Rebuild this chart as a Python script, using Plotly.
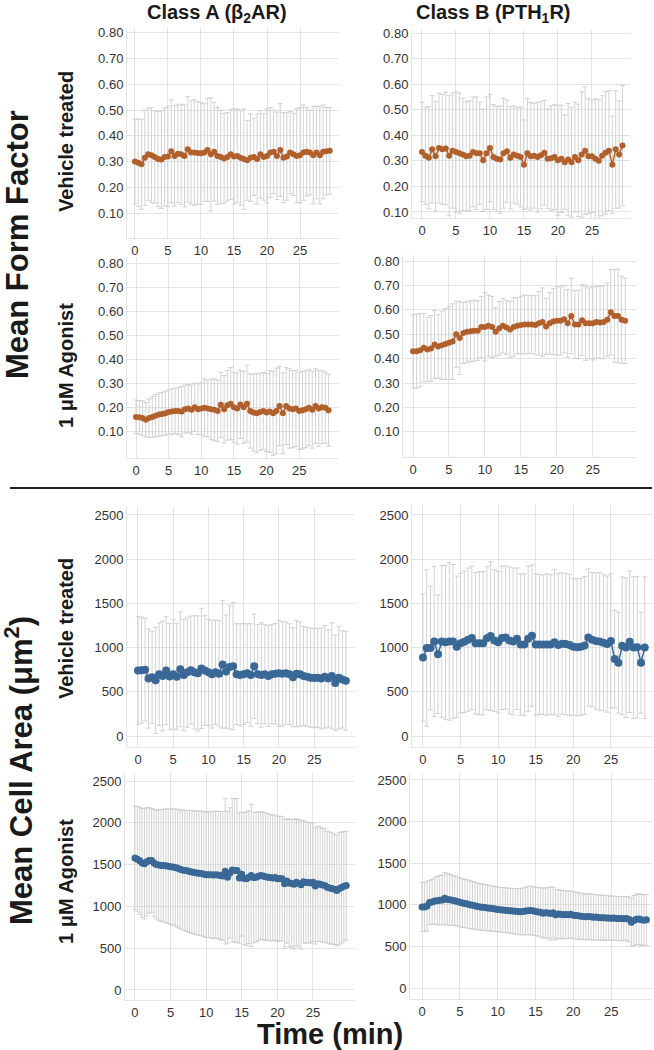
import plotly.graph_objects as go

W, H = 654, 1050

# ---------------- data ----------------
time_half = [i * 0.5 for i in range(60)]     # minutes, 30 s sampling
time_third = [i / 3 for i in range(90)]      # minutes, 20 s sampling

# Mean Form Factor, Class A, vehicle
ff_a_veh = [0.300, 0.295, 0.290, 0.315, 0.328, 0.325, 0.318, 0.310, 0.308, 0.318,
            0.320, 0.340, 0.322, 0.330, 0.328, 0.322, 0.348, 0.335, 0.335, 0.333,
            0.332, 0.335, 0.345, 0.328, 0.338, 0.322, 0.318, 0.312, 0.318, 0.328,
            0.320, 0.322, 0.315, 0.310, 0.305, 0.315, 0.318, 0.310, 0.328, 0.318,
            0.322, 0.335, 0.338, 0.322, 0.345, 0.315, 0.320, 0.335, 0.328, 0.322,
            0.325, 0.335, 0.338, 0.335, 0.325, 0.335, 0.325, 0.338, 0.340, 0.342]
ff_a_veh_sd = [0.165, 0.170, 0.175, 0.185, 0.180, 0.185, 0.180, 0.185, 0.190, 0.190,
               0.195, 0.200, 0.195, 0.190, 0.195, 0.198, 0.205, 0.200, 0.205, 0.200,
               0.198, 0.190, 0.200, 0.220, 0.192, 0.188, 0.182, 0.175, 0.172, 0.175,
               0.185, 0.182, 0.185, 0.195, 0.155, 0.170, 0.150, 0.175, 0.170, 0.168,
               0.183, 0.175, 0.162, 0.170, 0.180, 0.175, 0.170, 0.160, 0.160, 0.183,
               0.185, 0.185, 0.172, 0.165, 0.190, 0.180, 0.190, 0.182, 0.170, 0.168]

# Mean Form Factor, Class B, vehicle
ff_b_veh = [0.335, 0.320, 0.312, 0.345, 0.318, 0.350, 0.345, 0.348, 0.320, 0.340,
            0.335, 0.330, 0.325, 0.318, 0.320, 0.335, 0.330, 0.330, 0.302, 0.330,
            0.350, 0.315, 0.308, 0.305, 0.330, 0.338, 0.312, 0.325, 0.320, 0.315,
            0.285, 0.330, 0.318, 0.320, 0.315, 0.322, 0.332, 0.308, 0.310, 0.315,
            0.302, 0.308, 0.295, 0.305, 0.295, 0.315, 0.302, 0.325, 0.340, 0.318,
            0.318, 0.308, 0.300, 0.320, 0.332, 0.340, 0.285, 0.345, 0.325, 0.360]
ff_b_veh_sd = [0.195, 0.190, 0.200, 0.210, 0.215, 0.215, 0.215, 0.220, 0.235, 0.225,
               0.235, 0.235, 0.220, 0.215, 0.215, 0.215, 0.220, 0.200, 0.200, 0.220,
               0.210, 0.205, 0.205, 0.210, 0.215, 0.200, 0.200, 0.190, 0.190, 0.195,
               0.175, 0.215, 0.210, 0.205, 0.215, 0.210, 0.205, 0.195, 0.205, 0.205,
               0.215, 0.210, 0.185, 0.220, 0.215, 0.215, 0.220, 0.245, 0.250, 0.225,
               0.220, 0.235, 0.240, 0.235, 0.240, 0.235, 0.190, 0.230, 0.210, 0.235]

# Mean Form Factor, Class A, 1 uM agonist
ff_a_ago = [0.160, 0.158, 0.155, 0.148, 0.155, 0.160, 0.165, 0.170, 0.172, 0.175,
            0.180, 0.182, 0.185, 0.185, 0.182, 0.192, 0.195, 0.190, 0.200, 0.192,
            0.195, 0.198, 0.195, 0.192, 0.190, 0.185, 0.210, 0.192, 0.208, 0.215,
            0.200, 0.195, 0.212, 0.200, 0.215, 0.185, 0.178, 0.175, 0.180, 0.185,
            0.178, 0.182, 0.175, 0.185, 0.205, 0.175, 0.205, 0.195, 0.192, 0.195,
            0.185, 0.188, 0.192, 0.198, 0.190, 0.205, 0.195, 0.200, 0.198, 0.188]
ff_a_ago_sd = [0.070, 0.070, 0.072, 0.072, 0.080, 0.085, 0.088, 0.090, 0.090, 0.092,
               0.092, 0.095, 0.095, 0.098, 0.105, 0.100, 0.100, 0.102, 0.100, 0.105,
               0.110, 0.120, 0.118, 0.125, 0.128, 0.128, 0.135, 0.140, 0.145, 0.150,
               0.145, 0.148, 0.142, 0.150, 0.160, 0.155, 0.160, 0.165, 0.160, 0.160,
               0.162, 0.170, 0.175, 0.178, 0.165, 0.168, 0.160, 0.165, 0.160, 0.158,
               0.160, 0.162, 0.160, 0.158, 0.160, 0.155, 0.158, 0.152, 0.148, 0.150]

# Mean Form Factor, Class B, 1 uM agonist
ff_b_ago = [0.430, 0.430, 0.435, 0.445, 0.438, 0.442, 0.458, 0.450, 0.455, 0.460,
            0.465, 0.470, 0.500, 0.485, 0.505, 0.510, 0.512, 0.515, 0.515, 0.530,
            0.530, 0.535, 0.530, 0.510, 0.525, 0.535, 0.528, 0.520, 0.530, 0.535,
            0.538, 0.540, 0.540, 0.540, 0.538, 0.545, 0.550, 0.532, 0.545, 0.552,
            0.555, 0.555, 0.562, 0.545, 0.575, 0.540, 0.540, 0.558, 0.545, 0.545,
            0.545, 0.550, 0.548, 0.550, 0.560, 0.590, 0.575, 0.575, 0.560, 0.555]
ff_b_ago_sd = [0.150, 0.152, 0.150, 0.140, 0.132, 0.135, 0.140, 0.130, 0.140, 0.145,
               0.150, 0.155, 0.135, 0.150, 0.125, 0.125, 0.125, 0.125, 0.122, 0.125,
               0.140, 0.125, 0.125, 0.100, 0.110, 0.112, 0.110, 0.115, 0.120, 0.115,
               0.118, 0.120, 0.120, 0.118, 0.122, 0.130, 0.140, 0.115, 0.125, 0.135,
               0.140, 0.140, 0.138, 0.138, 0.155, 0.140, 0.140, 0.145, 0.152, 0.145,
               0.150, 0.148, 0.148, 0.150, 0.150, 0.175, 0.190, 0.192, 0.178, 0.175]

# Mean Cell Area (um^2), Class A, vehicle
area_a_veh = [740, 745, 750, 650, 665, 630, 700, 680, 740, 672,
              700, 670, 755, 690, 720, 745, 720, 710, 765, 740,
              720, 700, 720, 705, 810, 730, 780, 790, 700, 690,
              700, 710, 690, 790, 700, 690, 700, 680, 700, 705,
              710, 705, 710, 700, 665, 705, 700, 680, 670, 660,
              655, 660, 650, 670, 650, 680, 600, 660, 640, 625]
area_a_veh_sd = [610, 600, 580, 560, 520, 600, 580, 620, 610, 600,
                 620, 600, 650, 630, 620, 610, 640, 650, 680, 620,
                 600, 610, 590, 600, 720, 640, 700, 720, 570, 580,
                 570, 560, 580, 590, 560, 590, 560, 570, 560, 570,
                 600, 590, 580, 570, 560, 600, 590, 560, 560, 560,
                 560, 560, 570, 580, 550, 600, 540, 580, 550, 560]

# Mean Cell Area (um^2), Class B, vehicle
area_b_veh = [887, 995, 995, 1070, 925, 1070, 1060, 1070, 1070, 1010,
              1050, 1065, 1090, 1110, 1050, 1050, 1050, 1105, 1130, 1080,
              1060, 1110, 1115, 1080, 1070, 1100, 1035, 1035, 1100, 1135,
              1035, 1035, 1035, 1035, 1035, 1060, 1030, 1045, 1040, 1030,
              1010, 1005, 1010, 1025, 1115, 1090, 1075, 1070, 1055, 1040,
              1075, 870, 830, 1020, 1000, 1065, 1000, 1005, 830, 1000]
area_b_veh_sd = [720, 885, 700, 850, 670, 860, 870, 890, 870, 800,
                 790, 800, 810, 810, 800, 810, 810, 810, 840, 800,
                 800, 810, 810, 830, 830, 800, 800, 800, 820, 800,
                 800, 790, 790, 800, 790, 820, 810, 800, 800, 800,
                 770, 775, 775, 780, 775, 760, 770, 780, 770, 770,
                 760, 550, 570, 780, 790, 800, 800, 800, 570, 800]

# Mean Cell Area (um^2), Class A, 1 uM agonist
area_a_ago = [1580, 1565, 1545, 1520, 1510, 1535, 1550, 1550, 1520,
              1500, 1495, 1490, 1488, 1485, 1480, 1475, 1470, 1465,
              1455, 1445, 1435, 1430, 1425, 1418, 1410, 1405, 1400,
              1398, 1395, 1385, 1378, 1380, 1378, 1375, 1380, 1375,
              1370, 1365, 1420, 1350, 1400, 1435, 1430, 1430, 1340,
              1385, 1335, 1330, 1350, 1370, 1345, 1350, 1360, 1370,
              1365, 1355, 1350, 1345, 1340, 1345, 1330, 1335, 1330,
              1270, 1305, 1280, 1275, 1265, 1290, 1275, 1260, 1295,
              1285, 1285, 1280, 1290, 1245, 1270, 1265, 1255, 1250,
              1230, 1220, 1215, 1205, 1190, 1210, 1225, 1240, 1250]
area_a_ago_sd = [620, 630, 640, 650, 660, 650, 630, 620, 640,
                 650, 660, 670, 675, 680, 685, 690, 695, 700,
                 705, 710, 715, 720, 725, 730, 735, 738, 740,
                 742, 745, 748, 750, 752, 755, 758, 760, 762,
                 765, 770, 870, 790, 780, 860, 860, 860, 780,
                 740, 790, 800, 795, 850, 780, 775, 770, 765,
                 760, 760, 758, 755, 752, 750, 748, 745, 745,
                 770, 745, 760, 765, 775, 760, 760, 770, 730,
                 725, 720, 720, 710, 695, 690, 685, 680, 680,
                 670, 670, 665, 660, 660, 670, 665, 655, 650]

# Mean Cell Area (um^2), Class B, 1 uM agonist
area_b_ago = [975, 975, 985, 1028, 1035, 1045, 1050, 1055, 1058,
              1078, 1065, 1060, 1055, 1050, 1040, 1030, 1022, 1015,
              1010, 1002, 995, 988, 980, 975, 972, 968, 962,
              958, 955, 950, 945, 940, 938, 935, 932, 930,
              925, 922, 920, 918, 920, 925, 930, 932, 928,
              920, 915, 910, 900, 905, 902, 895, 905, 880,
              890, 885, 880, 882, 880, 885, 875, 870, 868,
              862, 858, 855, 860, 855, 850, 852, 848, 845,
              845, 842, 840, 838, 840, 836, 835, 834, 832,
              835, 825, 790, 812, 825, 828, 820, 815, 820]
area_b_ago_sd = [295, 295, 300, 265, 270, 280, 290, 295, 300,
                 310, 310, 305, 300, 298, 295, 295, 292, 290,
                 290, 288, 285, 282, 280, 278, 278, 276, 275,
                 272, 270, 270, 268, 268, 268, 268, 270, 270,
                 272, 272, 275, 278, 280, 285, 290, 292, 290,
                 290, 292, 295, 300, 300, 305, 320, 305, 300,
                 295, 290, 290, 288, 285, 282, 280, 280, 278,
                 278, 276, 275, 275, 275, 274, 272, 270, 270,
                 270, 268, 268, 266, 265, 265, 265, 265, 265,
                 262, 270, 290, 300, 305, 305, 305, 305, 305]

x_ticks = [0, 5, 10, 15, 20, 25]
ff_ticks = [0.10, 0.20, 0.30, 0.40, 0.50, 0.60, 0.70, 0.80]
area_ticks = [0, 500, 1000, 1500, 2000, 2500]

# ---------------- styling ----------------
BROWN = "#b2602b"
BLUE = "#3a6896"
ERR = "#cdcdcd"
GRID = "#e4e4e4"
FONT = "Liberation Sans, Arial, Helvetica, sans-serif"

# panel: data, colour, marker size, pixel box (left, top, right, bottom), ranges, ticks, format
panels = [
    (time_half, ff_a_veh, ff_a_veh_sd, BROWN, 6, (127, 28, 339, 238), [-1.2, 30.9], [0.003, 0.819], ff_ticks, ".2f"),
    (time_half, ff_b_veh, ff_b_veh_sd, BROWN, 6, (412, 30, 630, 218), [-1.47, 30.6], [0.0765, 0.812], ff_ticks, ".2f"),
    (time_half, ff_a_ago, ff_a_ago_sd, BROWN, 6, (127, 257, 339, 458), [-1.38, 31.1], [-0.011, 0.825], ff_ticks, ".2f"),
    (time_half, ff_b_ago, ff_b_ago_sd, BROWN, 6, (403, 255, 636, 457), [-1.39, 31.0], [-0.003, 0.825], ff_ticks, ".2f"),
    (time_half, area_a_veh, area_a_veh_sd, BLUE, 8, (127, 507, 355, 747), [-1.56, 30.8], [-124, 2590], area_ticks, "d"),
    (time_half, area_b_veh, area_b_veh_sd, BLUE, 8, (412, 505, 653, 747), [-1.46, 30.6], [-124, 2613], area_ticks, "d"),
    (time_third, area_a_ago, area_a_ago_sd, BLUE, 7, (125, 773, 355, 1000), [-1.4, 30.9], [-120, 2596], area_ticks, "d"),
    (time_third, area_b_ago, area_b_ago_sd, BLUE, 7, (410, 773, 652, 999), [-1.59, 30.4], [-132, 2584], area_ticks, "d"),
]

fig = go.Figure()
layout = {}
for i, (xs, ys, sd, col, ms, box, xr, yr, yt, fmt) in enumerate(panels, start=1):
    n = min(len(xs), len(ys), len(sd))
    xs, ys, sd = xs[:n], ys[:n], sd[:n]
    suffix = "" if i == 1 else str(i)
    fig.add_trace(go.Scatter(
        x=xs, y=ys, mode="lines+markers",
        line=dict(color=col, width=1.5),
        marker=dict(color=col, size=ms),
        error_y=dict(type="data", array=sd, symmetric=True, color=ERR, thickness=0.9, width=2.5),
        xaxis="x" + suffix, yaxis="y" + suffix, showlegend=False, cliponaxis=True,
    ))
    l, t, r, b = box
    layout["xaxis" + suffix] = dict(
        domain=[l / W, r / W], range=xr, anchor="y" + suffix, automargin=False,
        tickvals=x_ticks, showgrid=True, gridcolor=GRID, gridwidth=1,
        showline=True, linecolor=GRID, linewidth=1, zeroline=False, ticks="",
        tickfont=dict(family=FONT, size=13, color="#333"),
    )
    layout["yaxis" + suffix] = dict(
        domain=[1 - b / H, 1 - t / H], range=yr, anchor="x" + suffix, automargin=False,
        tickvals=yt, tickformat=fmt, showgrid=True, gridcolor=GRID, gridwidth=1,
        showline=True, linecolor=GRID, linewidth=1, zeroline=False, ticks="",
        tickfont=dict(family=FONT, size=13, color="#333"),
    )


def ann(text, x, y, size, angle=0):
    return dict(text=text, x=x / W, y=1 - y / H, xref="paper", yref="paper",
                xanchor="center", yanchor="middle", showarrow=False, textangle=angle,
                font=dict(family=FONT, size=size, color="#1a1a1a"))


annotations = [
    ann("<b>Class A (β<sub>2</sub>AR)</b>", 217, 14, 20),
    ann("<b>Class B (PTH<sub>1</sub>R)</b>", 494, 14, 20),
    ann("<b>Mean Form Factor</b>", 17, 245, 31, -90),
    ann("<b>Mean Cell Area (μm<sup>2</sup>)</b>", 19, 771, 31, -90),
    ann("<b>Vehicle treated</b>", 66, 142, 20, -90),
    ann("<b>1 μM Agonist</b>", 66, 366, 20, -90),
    ann("<b>Vehicle treated</b>", 66, 629, 20, -90),
    ann("<b>1 μM Agonist</b>", 66, 882, 20, -90),
    ann("<b>Time (min)</b>", 330, 1034, 29),
]

fig.update_layout(
    width=W, height=H, margin=dict(l=0, r=0, t=0, b=0, autoexpand=False),
    paper_bgcolor="white", plot_bgcolor="white",
    annotations=annotations,
    shapes=[dict(type="line", xref="paper", yref="paper",
                 x0=10 / W, x1=652 / W, y0=1 - 488 / H, y1=1 - 488 / H,
                 line=dict(color="#222", width=2))],
    **layout,
)

fig.write_html("out.html", config={"displayModeBar": False},
               post_script="document.body.style.margin='0';document.body.style.padding='0';document.body.style.overflow='hidden';")
